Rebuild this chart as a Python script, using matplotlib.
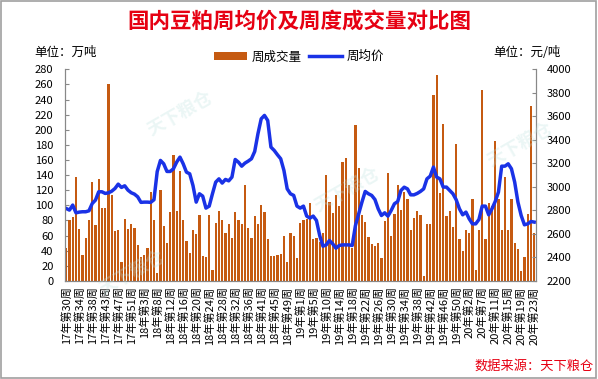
import numpy as np
import matplotlib
matplotlib.use('Agg')
import matplotlib.pyplot as plt
from matplotlib.patches import Rectangle

plt.rcParams['font.family'] = ['Noto Sans CJK SC', 'DejaVu Sans']

# 周成交量 (万吨)
volume = [43, 80, 85, 137, 69, 34, 57, 80, 131, 74, 135, 97, 97, 260, 113, 66, 67, 25, 82, 68, 75, 70, 48,
          31, 34, 43, 117, 80, 11, 120, 72, 50, 91, 166, 92, 145, 80, 53, 37, 67, 62, 87, 33, 31, 87, 14, 76, 93,
          80, 63, 75, 57, 91, 80, 75, 127, 70, 57, 86, 75, 100, 91, 56, 33, 33, 34, 35, 59, 25, 64, 59, 30,
          76, 80, 82, 103, 55, 57, 51, 63, 140, 105, 90, 113, 99, 157, 162, 127, 43, 206, 149, 87, 78, 58, 49, 46,
          50, 30, 79, 143, 59, 88, 127, 94, 117, 109, 67, 83, 92, 87, 6, 75, 75, 246, 273, 116, 207, 86, 92, 71, 181,
          55, 39, 67, 64, 109, 14, 67, 253, 55, 103, 99, 185, 109, 67, 137, 67, 108, 50, 42, 13, 31, 88, 232, 64]

# 周均价 (元/吨)
price = [2816, 2802, 2845, 2779, 2785, 2788, 2788, 2796, 2858, 2887, 2958, 2958, 2944, 2949, 2963, 2986, 3023, 2995, 3009, 2972, 2950, 2938, 2915,
         2868, 2870, 2870, 2868, 2890, 3130, 3225, 3196, 3131, 3131, 3154, 3211, 3253, 3196, 3125, 3111, 3012, 2870, 2941, 2921, 2819, 2836, 2941, 3040, 3068,
         3032, 3063, 3051, 3083, 3233, 3210, 3176, 3202, 3219, 3239, 3301, 3452, 3579, 3608, 3565, 3338, 3310, 3273, 3239, 3139, 2983, 2941, 2927, 2836,
         2819, 2836, 2751, 2734, 2751, 2714, 2586, 2495, 2506, 2543, 2515, 2478, 2501, 2506, 2506, 2506, 2501, 2671, 2770, 2870, 2961, 2941, 2927, 2892,
         2813, 2756, 2779, 2751, 2799, 2856, 2875, 2969, 2997, 2983, 2932, 2932, 2944, 2961, 2983, 3068, 3091, 3168, 3083, 3068, 2998, 2998, 2969, 2941, 2890,
         2813, 2762, 2785, 2728, 2685, 2685, 2722, 2836, 2836, 2762, 2813, 2875, 2955, 3176, 3176, 3196, 3154, 3040, 2870, 2756, 2677, 2685, 2705, 2700]

week_labels = ['17年第30周', '17年第34周', '17年第38周', '17年第43周', '17年第47周', '17年第51周',
               '18年第3周', '18年第8周', '18年第12周', '18年第16周', '18年第20周', '18年第24周',
               '18年第28周', '18年第32周', '18年第36周', '18年第41周', '18年第45周', '18年第49周',
               '19年第1周', '19年第5周', '19年第10周', '19年第14周', '19年第18周', '19年第22周',
               '19年第26周', '19年第30周', '19年第34周', '19年第38周', '19年第42周', '19年第46周',
               '19年第50周', '20年第2周', '20年第7周', '20年第11周', '20年第15周', '20年第19周', '20年第23周']

x = np.arange(len(volume))

fig = plt.figure(figsize=(5.98, 3.79), dpi=100)
ax = fig.add_axes([0.108, 0.259, 0.788, 0.558])
ax2 = ax.twinx()

ax.bar(x, volume, width=0.72, color='#C55A11', label='周成交量', zorder=2)
ax2.plot(x, price, color='#1A32E6', lw=2.5, label='周均价', solid_joinstyle='round')

ax.set_xlim(-0.5, len(volume) - 0.5)
ax.set_ylim(0, 280)
ax.set_yticks(range(0, 281, 20))
ax2.set_ylim(2200, 4000)
ax2.set_yticks(range(2200, 4001, 200))

ax.set_xticks(x[::4])
ax.set_xticklabels(week_labels, rotation=90, fontsize=8.2, va='top', ha='center')

for a in (ax, ax2):
    a.spines['top'].set_visible(False)
    for s in ('left', 'right', 'bottom'):
        a.spines[s].set_color('#888888')
        a.spines[s].set_linewidth(0.8)
    a.tick_params(direction='in', length=3, color='#888888', labelsize=8, width=0.8)
ax.tick_params(axis='x', length=0, pad=4)
ax.tick_params(axis='y', pad=8)
ax2.tick_params(axis='y', pad=8)

# watermarks
for wx, wy in [(0.30, 0.70), (0.58, 0.50), (0.87, 0.62), (0.22, 0.28)]:
    fig.text(wx, wy, '天下粮仓', fontsize=13, color='#BFE3E0', alpha=0.3,
             rotation=30, ha='center', va='center', fontweight='bold')

fig.text(0.5, 0.945, '国内豆粕周均价及周度成交量对比图', color='#E60012',
         fontsize=15.5, fontweight='bold', ha='center', va='center')
fig.text(0.058, 0.862, '单位：万吨', fontsize=9, ha='left', va='center')
fig.text(0.825, 0.862, '单位：元/吨', fontsize=9, ha='left', va='center')
fig.text(0.993, 0.033, '数据来源：天下粮仓', color='#E60012', fontsize=9.5,
         ha='right', va='center', style='italic')

h1, l1 = ax.get_legend_handles_labels()
h2, l2 = ax2.get_legend_handles_labels()
fig.legend(h1 + h2, l1 + l2, loc='center', bbox_to_anchor=(0.5, 0.85), ncol=2,
           frameon=False, fontsize=9, handlelength=2.6, handleheight=0.6,
           columnspacing=0.6, handletextpad=0.4)

fig.patches.append(Rectangle((0.002, 0.003), 0.995, 0.994, transform=fig.transFigure,
                             fill=False, edgecolor='#A0A0A0', lw=1.2))

fig.savefig('out.png', dpi=100)
